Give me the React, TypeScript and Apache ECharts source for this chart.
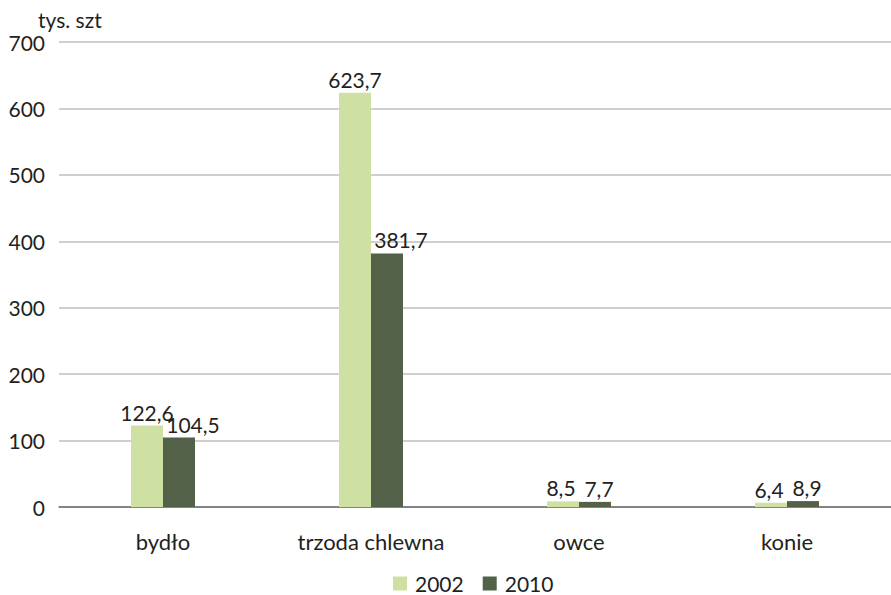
import React, { useEffect, useRef } from "react";
import * as echarts from "echarts";

const categories = ["bydło", "trzoda chlewna", "owce", "konie"];
const values2002 = [122.6, 623.7, 8.5, 6.4];
const values2010 = [104.5, 381.7, 7.7, 8.9];
const seriesNames = ["2002", "2010"];
const unitLabel = "tys. szt";
const labelShift2010 = [14, 14, 4, 4];
const labelShift2002 = [0, 0, -2, -2];

const FONT = "Lato, 'Open Sans', sans-serif";
const TEXT = "#231f20";

export default function App() {
  const ref = useRef<HTMLDivElement>(null);
  useEffect(() => {
    const chart = echarts.init(ref.current!, null, { renderer: "svg" });
    const fmt = (p: any) => String(p.value).replace(".", ",");
    const label = {
      show: true,
      position: "top" as const,
      distance: 3,
      color: TEXT,
      fontFamily: FONT,
      fontSize: 21,
      formatter: fmt,
    };
    chart.setOption({
      animation: false,
      textStyle: { fontFamily: FONT, color: TEXT },
      grid: { left: 59, right: -2, top: 42, bottom: 88, containLabel: false },
      legend: {
        top: 573,
        left: 393,
        padding: 0,
        itemWidth: 14,
        itemHeight: 14,
        itemGap: 19,
        icon: "rect",
        textStyle: { fontFamily: FONT, fontSize: 21, color: TEXT, padding: [0, 0, 0, 3] },
        data: seriesNames,
      },
      graphic: [
        {
          type: "text",
          left: 38,
          top: 9,
          style: { text: unitLabel, font: `21px ${FONT}`, fill: TEXT },
        },
      ],
      xAxis: {
        type: "category",
        data: categories,
        axisLine: { lineStyle: { color: "#6e6a6b", width: 1.5 } },
        axisTick: { show: false },
        axisLabel: { color: TEXT, fontFamily: FONT, fontSize: 22, margin: 23 },
      },
      yAxis: {
        type: "value",
        min: 0,
        max: 700,
        interval: 100,
        axisLine: { show: false },
        axisTick: { show: false },
        splitLine: { lineStyle: { color: "#bfbfbf", width: 1.5 } },
        axisLabel: { color: TEXT, fontFamily: FONT, fontSize: 21, margin: 14 },
      },
      series: [
        {
          name: seriesNames[0],
          type: "bar",
          data: values2002.map((v, i) => ({
            value: v,
            label: { offset: [labelShift2002[i], 0] },
          })),
          barWidth: 32,
          barGap: "0%",
          itemStyle: { color: "#cfe0a3" },
          label,
        },
        {
          name: seriesNames[1],
          type: "bar",
          data: values2010.map((v, i) => ({
            value: v,
            label: { offset: [labelShift2010[i], 0] },
          })),
          barWidth: 32,
          barGap: "0%",
          itemStyle: { color: "#536148" },
          label,
        },
      ],
    });
    return () => chart.dispose();
  }, []);
  return (
    <div
      ref={ref}
      style={{ position: "absolute", left: 0, top: 0, width: 891, height: 595 }}
    />
  );
}
